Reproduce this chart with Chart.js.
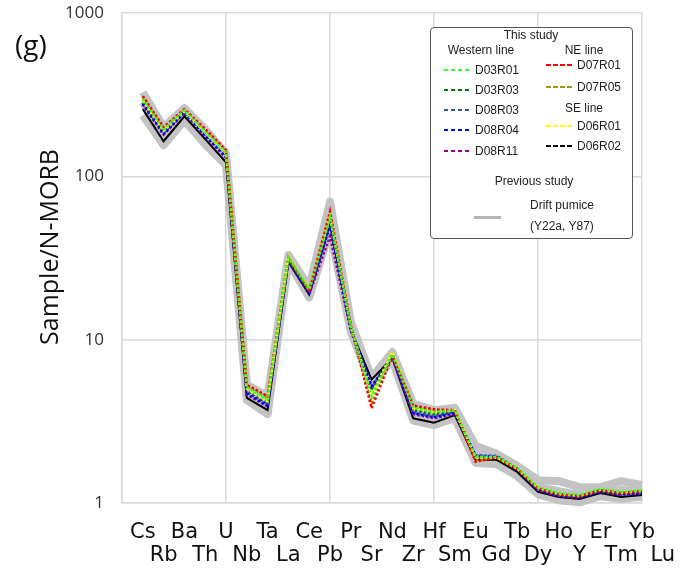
<!DOCTYPE html>
<html lang="en">
<head>
<meta charset="UTF-8">
<title>N-MORB normalized spider diagram (g)</title>
<script src="https://cdn.jsdelivr.net/npm/chart.js@4.4.0/dist/chart.umd.min.js"></script>
<style>
  body { margin: 0; background: #fff; }
  #wrap { position: relative; width: 686px; height: 572px; }
  #panel { position: absolute; left: 15px; top: 25px; font: 28px "Open Sans", sans-serif; color: #111; }
  #ytitle { position: absolute; left: 48px; top: 247px; transform: translate(-50%, -50%) rotate(-90deg);
            font: 25px "Open Sans", sans-serif; color: #111; white-space: nowrap; }
  #legend { position: absolute; left: 430px; top: 27px; width: 201px; height: 210px; border: 1.5px solid #555;
            border-radius: 4px; background: #fff; font: 12px "Liberation Sans", Arial, sans-serif; color: #222; }
  #legend span { position: absolute; line-height: 14px; white-space: nowrap; }
  #legend .c { transform: translateX(-50%); }
  #legend i { position: absolute; width: 27px; height: 2px; }
</style>
</head>
<body>
<div id="wrap">
  <canvas id="spider" width="686" height="572"></canvas>
  <div id="panel">(g)</div>
  <div id="ytitle">Sample/N-MORB</div>
  <div id="legend"></div>
</div>
<script>
// elements, in plot order
const elements = ['Cs','Rb','Ba','Th','U','Nb','Ta','La','Ce','Pb','Pr','Sr','Nd','Zr','Hf','Sm','Eu','Gd','Tb','Dy','Ho','Y','Er','Tm','Yb','Lu'];
const yTicks = [1, 10, 100, 1000];

// this study, sample / N-MORB
const D03R01 = [297,194,254,186,140,5.1,4.3,32,20.3,56,12.0,4.5,8.1,3.85,3.6,3.7,1.92,1.92,1.64,1.25,1.15,1.12,1.22,1.17,1.2,1.25];
const D03R03 = [285,188,250,183,136,4.9,4.1,31,19.8,54,11.8,4.9,7.9,3.7,3.5,3.65,1.9,1.9,1.62,1.22,1.13,1.1,1.2,1.15,1.18,1.22];
const D08R03 = [280,185,248,180,134,4.8,4.0,31,19.5,52,11.7,5.1,7.9,3.6,3.4,3.6,1.95,1.95,1.63,1.22,1.12,1.09,1.19,1.14,1.17,1.21];
const D08R04 = [278,182,246,178,132,4.7,3.95,30.5,19.3,50,11.6,5.2,7.8,3.55,3.35,3.55,1.95,1.93,1.6,1.2,1.11,1.08,1.18,1.13,1.15,1.19];
const D08R11 = [275,180,245,176,130,4.6,3.9,30,19,43,11.4,5.0,7.7,3.5,3.3,3.5,1.93,1.92,1.6,1.2,1.1,1.08,1.18,1.12,1.15,1.19];
const D07R01 = [310,200,258,195,145,5.3,4.5,32,20,61,12.3,3.8,8.0,3.95,3.75,3.7,1.79,1.9,1.62,1.23,1.13,1.1,1.2,1.15,1.18,1.22];
const D07R05 = [300,195,252,190,142,5.2,4.4,31.5,20,58,12.1,4.1,8.2,3.9,3.7,3.7,1.82,1.9,1.62,1.23,1.13,1.1,1.2,1.15,1.18,1.22];
const D06R01 = [290,190,250,185,138,5.0,4.2,32.5,20.5,57,12.0,4.6,8.4,3.8,3.6,3.7,1.9,1.9,1.63,1.24,1.14,1.11,1.21,1.16,1.19,1.24];
const D06R02 = [258,164,233,169,122,4.4,3.7,30,18.9,51,11.5,5.7,7.7,3.3,3.1,3.45,1.84,1.84,1.55,1.17,1.09,1.06,1.15,1.09,1.12,1.15];

// previous study, drift pumice (Y22a, Y87) envelope
const driftHigh = [327,200,261,194,138,5.3,4.5,33,21,70,12.9,5.85,8.4,4.05,3.7,3.83,2.24,2.0,1.69,1.38,1.36,1.25,1.25,1.36,1.29,1.36];
const driftMid  = [285,178,240,175,128,4.8,4.0,31.5,19.5,58,12.0,5.5,8.0,3.6,3.35,3.6,2.0,1.86,1.58,1.25,1.18,1.12,1.17,1.2,1.18,1.22];
const driftLow  = [237,155,220,157,117,4.28,3.5,30,18.1,47,11.2,5.3,7.5,3.2,3.0,3.3,1.76,1.73,1.46,1.13,1.04,1.01,1.1,1.06,1.09,1.12];

const samples = [
  ['D03R01', D03R01, '#33ff33'],
  ['D07R01', D07R01, '#ff0000'],
  ['D06R01', D06R01, '#ffff00'],
  ['D07R05', D07R05, '#9a9a00'],
  ['D08R04', D08R04, '#0000ff'],
  ['D08R03', D08R03, '#2f5597'],
  ['D08R11', D08R11, '#990099'],
  ['D03R03', D03R03, '#007a00'],
  ['D06R02', D06R02, '#000000']
];

const pts = arr => arr.map((v, i) => ({x: i, y: v}));

const datasets = [];
[driftHigh, driftMid, driftLow].forEach((arr, k) => {
  datasets.push({
    label: 'Drift pumice ' + (k + 1), data: pts(arr), borderColor: '#c3c3c3', borderWidth: 8,
    pointRadius: 0, tension: 0, clip: false, order: 20 + k, borderJoinStyle: 'round'
  });
});
samples.forEach((s, k) => {
  datasets.push({
    label: s[0], data: pts(s[1]), borderColor: s[2], borderWidth: s[0] === 'D06R02' ? 2 : 2.5,
    borderDash: s[0] === 'D06R02' ? [] : [2.5, 2], pointRadius: 0, tension: 0, clip: false, order: k
  });
});

const gridColor = '#d9d9d9';

new Chart(document.getElementById('spider'), {
  type: 'line',
  data: { datasets: datasets },
  options: {
    responsive: false,
    animation: false,
    layout: { padding: { top: 13, right: 44, left: 0, bottom: 0 } },
    plugins: { legend: { display: false }, tooltip: { enabled: false } },
    scales: {
      x: {
        type: 'linear', min: -1, max: 24,
        afterBuildTicks: s => { s.ticks = [{value: -1}].concat(elements.map((e, i) => ({value: i}))); },
        afterFit: s => { s.height = 69; s.paddingLeft = 0; s.paddingRight = 0; },
        grid: {
          drawTicks: false, lineWidth: 1.5,
          color: c => (c.tick && (c.tick.value + 1) % 5 === 0) ? gridColor : 'rgba(0,0,0,0)'
        },
        border: { color: gridColor, width: 1.5 },
        ticks: {
          autoSkip: false, maxRotation: 0, minRotation: 0, padding: 18, color: '#111',
          font: { family: 'DejaVu Sans', size: 21, lineHeight: 1.1 },
          callback: v => {
            if (v < 0) return '';
            const n = elements[v];
            return v % 2 === 0 ? [n, ''] : ['', n];
          }
        }
      },
      y: {
        type: 'logarithmic', min: 1, max: 1000,
        afterBuildTicks: s => { s.ticks = yTicks.map(v => ({value: v})); },
        afterFit: s => { s.width = 122; s.paddingTop = 0; s.paddingBottom = 0; },
        grid: { drawTicks: false, color: gridColor, lineWidth: 1.5 },
        border: { color: gridColor, width: 1.5 },
        ticks: {
          padding: 18, color: '#333',
          font: { family: 'Open Sans', size: 17 },
          callback: v => String(v)
        }
      }
    }
  }
});

// legend box (page coordinates minus box origin 430,27)
const lg = document.getElementById('legend');
function txt(s, x, y, centered) {
  const e = document.createElement('span');
  e.textContent = s;
  if (centered) e.className = 'c';
  e.style.left = (x - 430) + 'px';
  e.style.top = (y - 27 - 7) + 'px';
  lg.appendChild(e);
}
function mark(color, x, y, solid) {
  const e = document.createElement('i');
  e.style.left = (x - 430) + 'px';
  e.style.top = (y - 27 - 1) + 'px';
  if (solid) { e.style.background = color; e.style.height = '3px'; }
  else e.style.background = 'repeating-linear-gradient(to right,' + color + ' 0 4.5px, transparent 4.5px 7px)';
  lg.appendChild(e);
}
txt('This study', 530, 34, true);
txt('Western line', 480, 49, true);
txt('NE line', 583, 49, true);
const leftCol = [['D03R01', 69], ['D03R03', 89], ['D08R03', 109], ['D08R04', 129], ['D08R11', 150]];
const rightCol = [['D07R01', 64], ['D07R05', 86], ['D06R01', 125], ['D06R02', 145]];
const colorOf = name => samples.find(s => s[0] === name)[2];
leftCol.forEach(([n, y]) => { mark(colorOf(n), 443, y); txt(n, 474, y); });
rightCol.forEach(([n, y]) => { mark(colorOf(n), 545, y); txt(n, 576, y); });
txt('SE line', 583, 107, true);
txt('Previous study', 533, 180, true);
mark('#b5b5b5', 473, 216, true);
txt('Drift pumice', 529, 204);
txt('(Y22a, Y87)', 529, 225);
</script>
</body>
</html>
